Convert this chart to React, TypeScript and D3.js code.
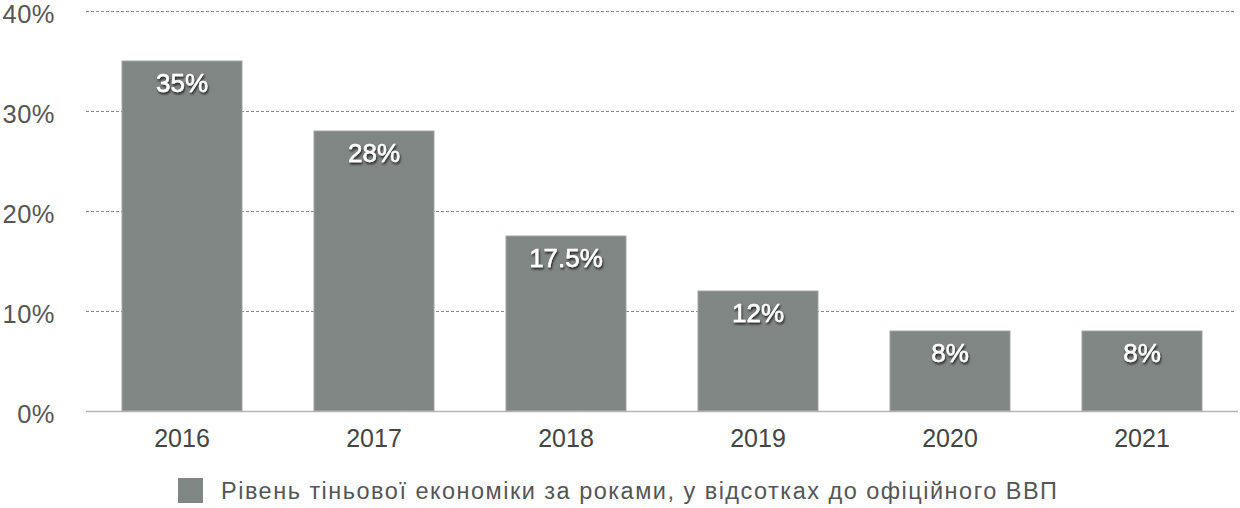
import { useRef, useEffect } from 'react';
import * as d3 from 'd3';

const years = ['2016', '2017', '2018', '2019', '2020', '2021'];
const shadowShare = [35, 28, 17.5, 12, 8, 8];
const yTicks = [0, 10, 20, 30, 40];
const legendLabel = 'Рівень тіньової економіки за роками, у відсотках до офіційного ВВП';

const W = 1240;
const H = 508;
const FONT = '"Liberation Sans", Arial, Helvetica, sans-serif';

const ShadowChart = () => {
    const ref = useRef<SVGSVGElement>(null);

    useEffect(() => {
        const svg = d3.select(ref.current);
        svg.selectAll('*').remove();

        const x = d3.scaleBand()
            .domain(years)
            .range([86, 1238])
            .paddingInner(0.375)
            .paddingOuter(0.1875);

        const y = d3.scaleLinear()
            .domain([0, 40])
            .range([411, 11]);

        const defs = svg.append('defs');
        const f = defs.append('filter').attr('id', 'txtShadow')
            .attr('x', '-20%').attr('y', '-20%').attr('width', '140%').attr('height', '160%');
        f.append('feDropShadow')
            .attr('dx', 1).attr('dy', 2).attr('stdDeviation', 1.2)
            .attr('flood-color', '#000').attr('flood-opacity', 0.75);

        // gridlines
        svg.append('g')
            .selectAll('line')
            .data(yTicks.filter(t => t > 0))
            .enter().append('line')
            .attr('x1', 86).attr('x2', 1236)
            .attr('y1', d => y(d) + 0.5).attr('y2', d => y(d) + 0.5)
            .attr('stroke', '#8a8a8a')
            .attr('stroke-width', 1)
            .attr('stroke-dasharray', '3,2');

        // y labels
        svg.append('g')
            .selectAll('text')
            .data(yTicks)
            .enter().append('text')
            .attr('x', 55)
            .attr('y', d => y(d) + 12)
            .attr('text-anchor', 'end')
            .attr('font-family', FONT)
            .attr('font-size', 25.5)
            .attr('letter-spacing', 0.5)
            .attr('fill', '#555')
            .text(d => `${d}%`);

        // bars
        svg.append('g')
            .selectAll('rect')
            .data(shadowShare)
            .enter().append('rect')
            .attr('x', (d, i) => x(years[i]))
            .attr('y', d => y(d))
            .attr('width', x.bandwidth())
            .attr('height', d => y(0) - y(d))
            .attr('fill', '#808683')
            .attr('stroke', '#a3a8a6')
            .attr('stroke-width', 1);

        // axis line
        svg.append('line')
            .attr('x1', 86).attr('x2', 1238)
            .attr('y1', 411.5).attr('y2', 411.5)
            .attr('stroke', '#b5b5b5')
            .attr('stroke-width', 1.5);

        // bar value labels
        svg.append('g')
            .selectAll('text')
            .data(shadowShare)
            .enter().append('text')
            .attr('x', (d, i) => x(years[i]) + x.bandwidth() / 2)
            .attr('y', d => y(d) + 31)
            .attr('text-anchor', 'middle')
            .attr('font-family', FONT)
            .attr('font-size', 26)
            .attr('fill', '#fff')
            .attr('stroke', '#fff')
            .attr('stroke-width', 0.5)
            .attr('filter', 'url(#txtShadow)')
            .text(d => `${d}%`);

        // x labels
        svg.append('g')
            .selectAll('text')
            .data(years)
            .enter().append('text')
            .attr('x', d => x(d) + x.bandwidth() / 2)
            .attr('y', 447)
            .attr('text-anchor', 'middle')
            .attr('font-family', FONT)
            .attr('font-size', 25)
            .attr('fill', '#444')
            .text(d => d);

        // legend
        const lg = svg.append('g');
        lg.append('rect')
            .attr('x', 178).attr('y', 478)
            .attr('width', 25).attr('height', 25)
            .attr('fill', '#808683');
        lg.append('text')
            .attr('x', 221).attr('y', 499)
            .attr('font-family', FONT)
            .attr('font-size', 23.5)
            .attr('fill', '#555')
            .attr('textLength', 836)
            .attr('lengthAdjust', 'spacing')
            .text(legendLabel);
    }, []);

    return <svg ref={ref} width={W} height={H} style={{ display: 'block' }}></svg>;
};

export default function App() {
    return (
        <div style={{ position: 'absolute', left: 0, top: 0 }}>
            <ShadowChart />
        </div>
    );
}
